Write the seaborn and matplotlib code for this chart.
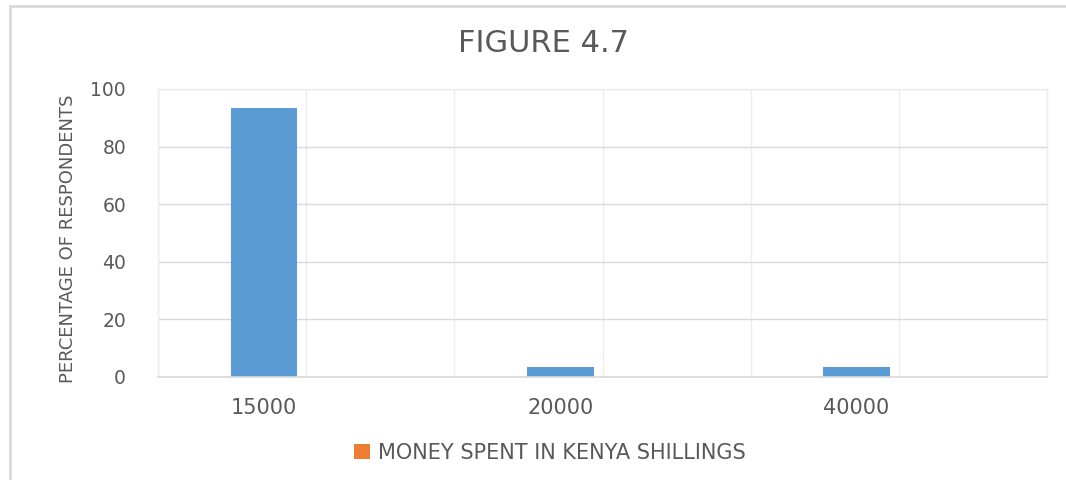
import matplotlib
matplotlib.use("Agg")
import matplotlib.pyplot as plt
from matplotlib.ticker import MultipleLocator
from matplotlib.patches import Patch
import seaborn as sns
import pandas as pd

categories = ["15000", "20000", "40000"]
series_names = ["Series1", "MONEY SPENT IN KENYA SHILLINGS"]
series1_values = [93.3, 3.3, 3.3]
money_values = [0, 0, 0]
title = "FIGURE 4.7"
ylabel = "PERCENTAGE OF RESPONDENTS"
yticks = [0, 20, 40, 60, 80, 100]

BLUE = "#5B9BD5"
ORANGE = "#ED7D31"
TEXT = "#595959"
GRID = "#D9D9D9"

df = pd.DataFrame({
    "category": categories * 2,
    "series": [series_names[0]] * 3 + [series_names[1]] * 3,
    "value": series1_values + money_values,
})

sns.set_theme(style="white")
plt.rcParams["font.family"] = ["DejaVu Sans"]

fig = plt.figure(figsize=(10.66, 4.8), dpi=100)
ax = fig.add_axes([158 / 1066, 1 - 377 / 480, (1047 - 158) / 1066, (377 - 89) / 480])

sns.barplot(data=df, x="category", y="value", hue="series",
            palette=[BLUE, ORANGE], width=0.57, gap=0.21, dodge=True,
            legend=False, ax=ax, saturation=1, linewidth=0)

ax.set_xlim(-0.5, 2.5)
ax.set_ylim(0, 100)
ax.set_yticks(yticks)
ax.set_yticklabels([str(t) for t in yticks], fontsize=13.5, color=TEXT)

# tick labels under the blue bars
blue_bars = ax.patches[:3]
centers = [p.get_x() + p.get_width() / 2 for p in blue_bars]
ax.set_xticks(centers)
ax.set_xticklabels(categories, fontsize=15, color=TEXT)
ax.tick_params(axis="both", length=0)
ax.tick_params(axis="x", pad=15)
ax.tick_params(axis="y", pad=23)

ax.xaxis.set_minor_locator(MultipleLocator(0.5))
ax.grid(False)
ax.grid(True, which="minor", axis="x", color="#EDEDED", linewidth=1)
ax.grid(True, which="major", axis="y", color=GRID, linewidth=1)
ax.set_axisbelow(True)
for s in ["top", "right", "left"]:
    ax.spines[s].set_visible(True)
    ax.spines[s].set_color("#EDEDED")
    ax.spines[s].set_linewidth(1)
ax.spines["bottom"].set_color(GRID)
ax.spines["bottom"].set_linewidth(1.2)

ax.set_xlabel("")
ax.set_ylabel(ylabel, fontsize=13, color=TEXT)
ax.yaxis.set_label_coords(-0.091, 0.48)

fig.text(544 / 1066, 1 - 44 / 480, title, ha="center", va="center",
         fontsize=22, color=TEXT)

handle = Patch(facecolor=ORANGE, edgecolor="none")
fig.legend([handle], [series_names[1]], loc="center",
           bbox_to_anchor=(550 / 1066, 1 - 453 / 480), frameon=False,
           fontsize=15, labelcolor=TEXT, handlelength=0.75, handleheight=0.7,
           handletextpad=0.4)

# outer chart border (top and left visible)
fig.add_artist(plt.Line2D([10 / 1066, 1], [1 - 6 / 480, 1 - 6 / 480],
                          transform=fig.transFigure, color="#D9D9D9", linewidth=2))
fig.add_artist(plt.Line2D([10 / 1066, 10 / 1066], [0, 1 - 6 / 480],
                          transform=fig.transFigure, color="#D9D9D9", linewidth=2))

fig.savefig("out.png", dpi=100)
